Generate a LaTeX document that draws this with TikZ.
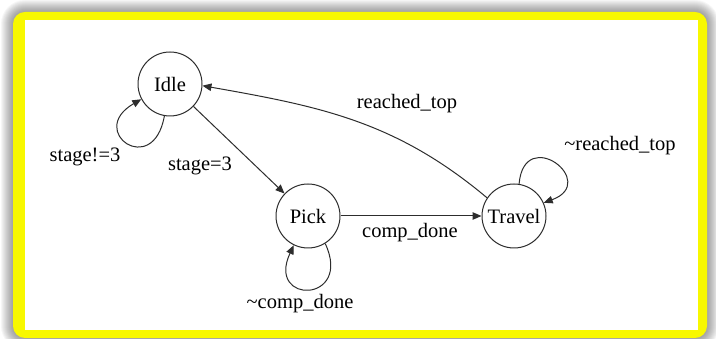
\documentclass[tikz,border=0pt]{standalone}
\usepackage{fontspec}
\setmainfont{Liberation Serif}
\usetikzlibrary{arrows.meta}
\definecolor{framey}{RGB}{248,248,0}
\definecolor{ink}{RGB}{45,45,45}
\tikzset{
  x=1pt, y=1pt,
  state/.style={circle, draw=ink, line width=1pt, minimum size=64pt, inner sep=0pt,
    font=\fontsize{20.5}{24}\selectfont},
  trans/.style={draw=ink, line width=1pt, -{Triangle[length=9pt,width=7.5pt]}},
  lbl/.style={font=\fontsize{20.5}{24}\selectfont, inner sep=0pt}
}
\begin{document}
\begin{tikzpicture}
\useasboundingbox (0,0) rectangle (716,339);
% soft shadow round the frame
\foreach \k in {12,11,...,1}{
  \fill[black, opacity=0.035, rounded corners={12pt+\k pt}]
    (13-\k,1-\k) rectangle (707+\k,327+\k);
}
% yellow frame and white page
\fill[framey, rounded corners=12pt] (13,1) rectangle (707,327);
\fill[white] (25,9) rectangle (698,319);

% states
\node[state] (idle)   at (170,255) {Idle};
\node[state] (pick)   at (308,123) {Pick};
\node[state] (travel) at (514,123) {Travel};

% transitions
\draw[trans] (idle) -- (pick);
\draw[trans] (pick) -- (travel);
\draw[trans] (travel.146) to[out=140, in=-10] (idle.-3);

% self loops
\draw[trans] (idle.-100) .. controls +(-100:64) and +(-150:64) .. (idle.-152);
\draw[trans] (pick.-58) .. controls +(-65:66) and +(-115:66) .. (pick.-116);
\draw[trans] (travel.81) .. controls +(85:60) and +(20:60) .. (travel.24);

% labels
\node[lbl] (l1) at (85,182) {stage!=3};
\node[lbl] (l2) at (200,173) {stage=3};
\node[lbl] (l3) at (407,235) {reached\_top};
\node[lbl] (l4) at (620,193) {\textasciitilde reached\_top};
\node[lbl] (l5) at (410,106) {comp\_done};
\node[lbl] (l6) at (300,35) {\textasciitilde comp\_done};
\end{tikzpicture}
\end{document}
